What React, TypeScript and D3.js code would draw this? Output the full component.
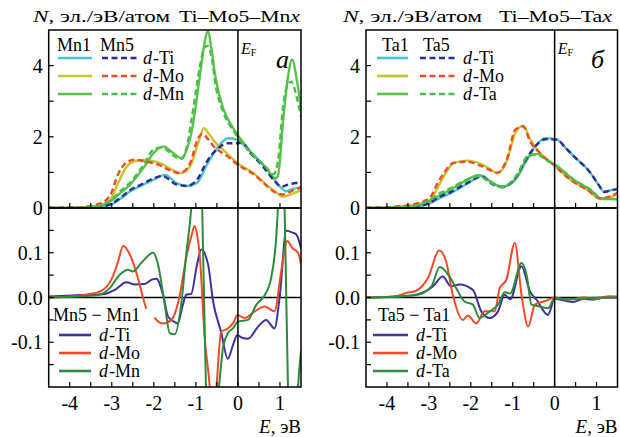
import React from "react";
import * as d3 from "d3";

type Pt = [number, number | null];

// --- Ti–Mo5–Mnx: DOS, Mn1 (solid) / Mn5 (dashed)
const mn1Ti: Pt[] = [[-4.5,0],[-3.8,0.01],[-3.3,0.03],[-3.04,0.08],[-2.8,0.25],[-2.57,0.46],[-2.3,0.63],[-2.01,0.79],[-1.73,0.93],[-1.46,0.7],[-1.22,0.62],[-0.98,0.7],[-0.74,1.21],[-0.5,1.68],[-0.23,1.96],[-0.03,1.92],[0.29,1.59],[0.6,1.21],[0.84,0.84],[1.04,0.55],[1.14,0.47],[1.28,0.53],[1.5,0.58]];
const mn5Ti: Pt[] = [[-4.5,0],[-3.8,0.01],[-3.3,0.04],[-3.04,0.1],[-2.8,0.28],[-2.57,0.5],[-2.3,0.66],[-2.01,0.83],[-1.8,0.9],[-1.46,0.66],[-1.22,0.62],[-0.98,0.78],[-0.74,1.3],[-0.5,1.65],[-0.23,1.82],[-0.03,1.82],[0.1,1.83],[0.29,1.55],[0.6,1.16],[0.84,0.8],[1.04,0.6],[1.2,0.66],[1.5,0.72]];
const mn1Mo: Pt[] = [[-4.5,0],[-3.8,0.01],[-3.3,0.08],[-3.04,0.22],[-2.85,0.7],[-2.65,1.16],[-2.45,1.32],[-2.25,1.35],[-2.05,1.32],[-1.85,1.26],[-1.6,1.1],[-1.38,0.98],[-1.14,1.16],[-0.95,1.8],[-0.81,2.24],[-0.7,2.1],[-0.59,1.92],[-0.27,1.54],[-0.01,1.26],[0.37,0.98],[0.68,0.65],[0.9,0.45],[1.06,0.32],[1.32,0.41],[1.5,0.5]];
const mn5Mo: Pt[] = [[-4.5,0],[-3.8,0.02],[-3.3,0.12],[-3.04,0.35],[-2.85,0.95],[-2.65,1.28],[-2.45,1.36],[-2.25,1.32],[-2.05,1.27],[-1.85,1.2],[-1.6,1.05],[-1.38,0.98],[-1.14,1.25],[-0.95,1.95],[-0.85,2.08],[-0.7,1.92],[-0.59,1.75],[-0.27,1.47],[-0.01,1.22],[0.37,0.95],[0.68,0.63],[0.9,0.43],[1.06,0.38],[1.32,0.5],[1.5,0.58]];
const mn1Mn: Pt[] = [[-4.5,0],[-3.8,0.01],[-3.3,0.05],[-3.04,0.18],[-2.8,0.42],[-2.57,0.65],[-2.25,1.12],[-2.0,1.55],[-1.77,1.73],[-1.55,1.55],[-1.34,1.4],[-1.2,1.7],[-1.1,2.15],[-0.9,3.75],[-0.8,4.6],[-0.72,4.97],[-0.62,4.4],[-0.545,3.75],[-0.35,2.8],[-0.11,2.24],[0.05,1.96],[0.37,1.49],[0.68,1.12],[0.88,0.84],[0.95,0.9],[1.08,2.53],[1.18,3.6],[1.29,4.17],[1.4,3.6],[1.52,2.6]];
const mn5Mn: Pt[] = [[-4.5,0],[-3.8,0.01],[-3.3,0.06],[-3.04,0.2],[-2.8,0.47],[-2.57,0.71],[-2.25,1.2],[-2.0,1.65],[-1.8,1.7],[-1.55,1.48],[-1.34,1.38],[-1.2,1.8],[-1.1,2.5],[-0.9,4.0],[-0.8,4.5],[-0.72,4.55],[-0.62,4.2],[-0.545,3.55],[-0.35,2.7],[-0.11,2.17],[0.05,1.9],[0.37,1.47],[0.68,1.13],[0.85,0.95],[0.95,1.3],[1.08,2.9],[1.18,3.45],[1.27,3.55],[1.4,3.1],[1.52,2.45]];

// --- Mn5 − Mn1
const dMnTi: Pt[] = [[-4.5,0.002],[-3.57,0.006],[-3.21,0.007],[-2.93,0.017],[-2.65,0.034],[-2.45,0.029],[-2.22,0.03],[-2.05,0.04],[-1.94,0.042],[-1.78,0.006],[-1.66,-0.043],[-1.5,-0.055],[-1.43,-0.058],[-1.32,-0.02],[-1.23,0.006],[-1.11,0.008],[-0.98,0.07],[-0.87,0.107],[-0.71,0.074],[-0.59,-0.009],[-0.4,-0.077],[-0.24,-0.137],[-0.12,-0.107],[-0.015,-0.084],[0.1,-0.09],[0.24,-0.092],[0.48,-0.065],[0.67,-0.05],[0.87,-0.069],[0.99,-0.001],[1.15,0.149],[1.3,0.145],[1.39,0.141],[1.5,0.11]];
const dMnMo: Pt[] = [[-4.5,0],[-3.9,0.003],[-3.57,0.007],[-3.25,0.015],[-3.01,0.04],[-2.85,0.08],[-2.73,0.115],[-2.57,0.096],[-2.38,0.044],[-2.22,-0.013],[-2.18,-0.025],[-2.1,null],[-1.98,-0.045],[-1.94,-0.05],[-1.78,-0.058],[-1.58,-0.05],[-1.38,0.006],[-1.23,0.089],[-1.1,0.14],[-1.03,0.16],[-0.97,0.14],[-0.91,0.096],[-0.79,-0.09],[-0.67,-0.2],[-0.6,-0.3],[-0.51,-0.2],[-0.4,-0.077],[-0.24,-0.069],[-0.1,-0.055],[-0.015,-0.039],[0.16,-0.046],[0.4,-0.031],[0.64,-0.02],[0.87,-0.031],[1.03,0.059],[1.17,0.126],[1.3,0.11],[1.43,0.1],[1.5,0.074]];
const dMnMn: Pt[] = [[-4.5,0],[-3.35,0.005],[-3.05,0.021],[-2.81,0.051],[-2.61,0.062],[-2.5,0.058],[-2.3,0.077],[-2.02,0.1],[-1.9,0.074],[-1.74,-0.016],[-1.62,-0.08],[-1.5,-0.082],[-1.35,-0.016],[-1.23,0.096],[-1.11,0.2],[-1.0,0.38],[-0.92,0.35],[-0.85,0.2],[-0.76,-0.2],[-0.6,-0.4],[-0.45,-0.2],[-0.35,-0.11],[-0.24,-0.08],[-0.12,-0.069],[0.0,-0.054],[0.24,-0.05],[0.44,-0.016],[0.64,0.006],[0.79,0.044],[0.91,0.134],[0.95,0.2],[1.03,0.5],[1.11,0.2],[1.19,-0.2],[1.3,-0.5],[1.43,-0.2],[1.5,-0.12]];

// --- Ti–Mo5–Tax: DOS, Ta1 (solid) / Ta5 (dashed)
const ta1Ti: Pt[] = [[-4.5,0],[-3.8,0.01],[-3.3,0.04],[-2.97,0.13],[-2.75,0.27],[-2.49,0.41],[-2.09,0.68],[-1.73,0.9],[-1.53,0.74],[-1.25,0.6],[-0.98,0.74],[-0.66,1.35],[-0.45,1.75],[-0.22,1.96],[0.06,1.92],[0.25,1.7],[0.46,1.45],[0.86,0.98],[1.05,0.65],[1.18,0.46],[1.35,0.5],[1.5,0.53]];
const ta5Ti: Pt[] = [[-4.5,0],[-3.8,0.01],[-3.3,0.05],[-2.97,0.15],[-2.75,0.31],[-2.49,0.44],[-2.09,0.7],[-1.73,0.88],[-1.53,0.7],[-1.25,0.59],[-0.98,0.78],[-0.66,1.4],[-0.45,1.75],[-0.22,1.93],[0.06,1.92],[0.25,1.7],[0.46,1.45],[0.86,0.98],[1.05,0.65],[1.18,0.45],[1.35,0.5],[1.5,0.53]];
const ta1Mo: Pt[] = [[-4.5,0],[-3.69,0.04],[-3.3,0.1],[-2.97,0.23],[-2.8,0.55],[-2.65,0.88],[-2.41,1.26],[-2.09,1.33],[-1.77,1.24],[-1.55,1.1],[-1.37,0.98],[-1.13,1.35],[-0.94,2.1],[-0.75,2.31],[-0.58,1.92],[-0.34,1.54],[-0.02,1.21],[0.38,0.79],[0.78,0.51],[1.1,0.25],[1.34,0.3],[1.54,0.45]];
const ta5Mo: Pt[] = [[-4.5,0],[-3.69,0.05],[-3.3,0.12],[-2.97,0.3],[-2.8,0.68],[-2.65,0.97],[-2.41,1.27],[-2.09,1.3],[-1.77,1.19],[-1.55,1.07],[-1.37,0.99],[-1.13,1.4],[-0.94,2.2],[-0.75,2.29],[-0.58,1.86],[-0.34,1.53],[-0.02,1.21],[0.38,0.79],[0.78,0.51],[1.1,0.27],[1.34,0.33],[1.54,0.45]];
const ta1Ta: Pt[] = [[-4.5,0],[-3.8,0.01],[-3.3,0.06],[-2.97,0.2],[-2.75,0.35],[-2.49,0.51],[-2.09,0.79],[-1.81,0.93],[-1.53,0.74],[-1.25,0.58],[-1.05,0.7],[-0.89,0.88],[-0.62,1.45],[-0.42,1.52],[-0.18,1.35],[0.06,1.17],[0.46,0.79],[0.86,0.51],[1.1,0.27],[1.3,0.25],[1.54,0.25]];
const ta5Ta: Pt[] = [[-4.5,0],[-3.8,0.01],[-3.3,0.07],[-2.97,0.23],[-2.75,0.41],[-2.49,0.55],[-2.09,0.8],[-1.81,0.89],[-1.53,0.72],[-1.25,0.58],[-1.05,0.72],[-0.89,0.95],[-0.62,1.48],[-0.42,1.5],[-0.18,1.33],[0.06,1.17],[0.46,0.79],[0.86,0.51],[1.1,0.27],[1.3,0.25],[1.54,0.25]];

// --- Ta5 − Ta1
const dTaTi: Pt[] = [[-4.5,0],[-3.6,0.003],[-3.27,0.007],[-2.9,0.025],[-2.67,0.047],[-2.47,0.025],[-2.27,0.029],[-1.95,0.017],[-1.75,-0.031],[-1.55,-0.046],[-1.35,-0.031],[-1.19,0.006],[-1.06,-0.004],[-0.79,0.07],[-0.59,0.014],[-0.43,-0.005],[-0.16,-0.039],[0.0,-0.003],[0.2,-0.006],[0.44,-0.01],[0.7,-0.003],[0.92,-0.005],[1.2,0.0],[1.5,0.0]];
const dTaMo: Pt[] = [[-4.5,0],[-3.8,0.003],[-3.54,0.01],[-3.3,0.015],[-3.02,0.044],[-2.75,0.105],[-2.59,0.081],[-2.43,0.006],[-2.19,-0.05],[-2.07,-0.04],[-1.87,-0.058],[-1.67,-0.031],[-1.43,-0.031],[-1.31,0.021],[-1.15,0.04],[-0.95,0.122],[-0.79,0.006],[-0.63,-0.065],[-0.47,-0.016],[-0.3,-0.01],[-0.19,-0.007],[0.0,0.0],[0.3,-0.005],[0.7,0.0],[1.0,-0.003],[1.3,0.003],[1.5,0.002]];
const dTaTa: Pt[] = [[-4.5,0],[-3.6,0.003],[-3.27,0.006],[-2.94,0.025],[-2.74,0.068],[-2.54,0.051],[-2.35,0.021],[-2.15,-0.009],[-1.95,-0.016],[-1.79,-0.046],[-1.55,-0.031],[-1.35,-0.016],[-1.19,0.012],[-1.06,0.009],[-0.79,0.077],[-0.67,0.051],[-0.55,-0.016],[-0.35,-0.02],[-0.16,-0.024],[0.0,-0.002],[0.3,-0.004],[0.7,-0.002],[1.1,0.0],[1.5,0.0]];

const xTickLabels = [-4, -3, -2, -1, 0, 1];
const yTopLabels = [0, 2, 4];
const yBotLabels = [-0.1, 0, 0.1];

const FONT = '"Liberation Serif", "DejaVu Serif", serif';
const TOP = 30, MID = 208, BOT = 387;

const col = {
  cyan: "#47c6cc", navy: "#2f2b98", olive: "#c6c62a", red: "#f24a26",
  lgreen: "#5ac24a", blue: "#3a33a2", dgreen: "#2b8c3a",
};

// "d-Ti": italic d
const dTxt = (el: string) => (<><tspan fontStyle="italic">d</tspan><tspan dx={1}>-{el}</tspan></>);

function Panel(props: any) {
  const { id, x0, x1, top, diff, names, diffTitle, system, letter, hdr } = props;
  const x = d3.scaleLinear().domain([-4.5, 1.5]).range([x0, x1]);
  const yT = d3.scaleLinear().domain([0, 5]).range([MID, TOP]);
  const yB = d3.scaleLinear().domain([-0.2, 0.2]).range([BOT, MID]);
  const lineT = d3.line<Pt>().defined(d => d[1] !== null).x(d => x(d[0])).y(d => yT(d[1] as number)).curve(d3.curveMonotoneX);
  const lineB = d3.line<Pt>().defined(d => d[1] !== null).x(d => x(d[0])).y(d => yB(d[1] as number)).curve(d3.curveMonotoneX);
  const xt = d3.range(-4, 1.5, 0.5);
  const ef = x(0);

  return (
    <g>
      <defs>
        <clipPath id={`ct${id}`}><rect x={x0} y={TOP} width={x1 - x0} height={MID - TOP} /></clipPath>
        <clipPath id={`cb${id}`}><rect x={x0} y={MID} width={x1 - x0} height={BOT - MID} /></clipPath>
      </defs>

      {/* header */}
      <text x={hdr[0]} y={21.5} fontSize={16} textLength={hdr[1]} lengthAdjust="spacingAndGlyphs">
        <tspan fontStyle="italic">N</tspan>, эл./эВ/атом
      </text>
      <text x={hdr[2]} y={21.5} fontSize={16} textLength={hdr[3]} lengthAdjust="spacingAndGlyphs">
        Ti–Mo5–{system}<tspan fontStyle="italic">x</tspan>
      </text>

      {/* curves top */}
      <g clipPath={`url(#ct${id})`} fill="none" strokeWidth={2.4}>
        {top.filter((s: any) => !s.dash).map((s: any, i: number) => (
          <path key={"s" + i} d={lineT(s.data) || ""} stroke={s.color} />
        ))}
        {top.filter((s: any) => s.dash).map((s: any, i: number) => (
          <path key={"d" + i} d={lineT(s.data) || ""} stroke={s.color} strokeDasharray="6,3.5" />
        ))}
      </g>

      {/* zero line and curves bottom */}
      <line x1={x0} x2={x1} y1={yB(0)} y2={yB(0)} stroke="#000" strokeWidth={1.5} />
      <g clipPath={`url(#cb${id})`} fill="none" strokeWidth={2}>
        {diff.map((s: any, i: number) => (
          <path key={i} d={lineB(s.data) || ""} stroke={s.color} />
        ))}
      </g>

      {/* Fermi level */}
      <line x1={ef} x2={ef} y1={TOP} y2={BOT} stroke="#000" strokeWidth={1.5} />
      <text x={ef + 3} y={53.5} fontSize={16} fontStyle="italic">E<tspan fontSize={10} fontStyle="normal" dy={2}>F</tspan></text>
      <text x={letter[1]} y={68} fontSize={26} fontStyle="italic">{letter[0]}</text>

      {/* frames */}
      <rect x={x0} y={TOP} width={x1 - x0} height={MID - TOP} fill="none" stroke="#000" strokeWidth={1.5} />
      <rect x={x0} y={MID} width={x1 - x0} height={BOT - MID} fill="none" stroke="#000" strokeWidth={1.5} />

      {/* ticks */}
      <g stroke="#000" strokeWidth={1.2}>
        {xt.map(t => (
          <g key={t}>
            <line x1={x(t)} x2={x(t)} y1={MID} y2={MID - 5} />
            <line x1={x(t)} x2={x(t)} y1={BOT} y2={BOT - 5} />
          </g>
        ))}
        {d3.range(1, 5).map(t => <line key={"yt" + t} x1={x0} x2={x0 + 5} y1={yT(t)} y2={yT(t)} />)}
        {d3.range(-0.15, 0.16, 0.05).map(t => <line key={"yb" + t} x1={x0} x2={x0 + 5} y1={yB(t)} y2={yB(t)} />)}
      </g>

      {/* tick labels */}
      <g fontSize={20}>
        {xTickLabels.map(t => (
          <text key={t} x={x(t)} y={410} textAnchor="middle">{String(t)}</text>
        ))}
        {yTopLabels.map(t => (
          <text key={t} x={x0 - 6} y={yT(t) + 7} textAnchor="end">{String(t)}</text>
        ))}
        {yBotLabels.map(t => (
          <text key={t} x={x0 - 6} y={yB(t) + 7} textAnchor="end">{t.toFixed(1)}</text>
        ))}
      </g>
      <text x={x1} y={433} fontSize={19} textAnchor="end"><tspan fontStyle="italic">E</tspan>, эВ</text>

      {/* legend top */}
      <g fontSize={18}>
        <text x={names.t1} y={51}>{names.a}</text>
        <text x={names.t2} y={51}>{names.b}</text>
        {[0, 1, 2].map(i => {
          const yy = 58 + i * 18;
          return (
            <g key={i}>
              <line x1={names.s1[0]} x2={names.s1[1]} y1={yy} y2={yy} stroke={top[i].color} strokeWidth={2.6} />
              <line x1={names.s2[0]} x2={names.s2[1]} y1={yy} y2={yy} stroke={top[i + 3].color} strokeWidth={2.6} strokeDasharray="6,3.5" />
              <text x={names.s2[1] + 6} y={yy + 6}>{dTxt(names.el[i])}</text>
            </g>
          );
        })}
      </g>

      {/* legend bottom */}
      <g fontSize={18}>
        <text x={diffTitle.x} y={321}>{diffTitle.text}</text>
        {[0, 1, 2].map(i => {
          const yy = 335 + i * 18;
          return (
            <g key={i}>
              <line x1={diffTitle.l[0]} x2={diffTitle.l[1]} y1={yy} y2={yy} stroke={diff[i].color} strokeWidth={2.6} />
              <text x={diffTitle.l[1] + 8} y={yy + 6}>{dTxt(names.el[i])}</text>
            </g>
          );
        })}
      </g>
    </g>
  );
}

export default function App() {
  return (
    <svg width={620} height={437} style={{ position: "absolute", left: 0, top: 0, background: "#fff", fontFamily: FONT }}>
      <rect width={620} height={437} fill="#fff" />
      <Panel
        id="a"
        x0={48.7}
        x1={301}
        hdr={[33, 137, 179, 121]}
        system="Mn"
        letter={["a", 276]}
        top={[
          { data: mn1Ti, color: col.cyan },
          { data: mn1Mo, color: col.olive },
          { data: mn1Mn, color: col.lgreen },
          { data: mn5Ti, color: col.navy, dash: true },
          { data: mn5Mo, color: col.red, dash: true },
          { data: mn5Mn, color: "#48c048", dash: true },
        ]}
        diff={[
          { data: dMnTi, color: col.blue },
          { data: dMnMo, color: col.red },
          { data: dMnMn, color: col.dgreen },
        ]}
        names={{ a: "Mn1", b: "Mn5", t1: 57, t2: 100, s1: [58, 92], s2: [102, 137], el: ["Ti", "Mo", "Mn"] }}
        diffTitle={{ text: "Mn5 − Mn1", x: 53, l: [59, 91] }}
      />
      <Panel
        id="b"
        x0={366}
        x1={617.5}
        hdr={[343, 139, 499, 113]}
        system="Ta"
        letter={["б", 591]}
        top={[
          { data: ta1Ti, color: col.cyan },
          { data: ta1Mo, color: col.olive },
          { data: ta1Ta, color: col.lgreen },
          { data: ta5Ti, color: col.navy, dash: true },
          { data: ta5Mo, color: col.red, dash: true },
          { data: ta5Ta, color: "#48c048", dash: true },
        ]}
        diff={[
          { data: dTaTi, color: col.blue },
          { data: dTaMo, color: col.red },
          { data: dTaTa, color: col.dgreen },
        ]}
        names={{ a: "Ta1", b: "Ta5", t1: 382, t2: 423, s1: [377, 408], s2: [420, 457], el: ["Ti", "Mo", "Ta"] }}
        diffTitle={{ text: "Ta5 − Ta1", x: 378, l: [373, 408] }}
      />
    </svg>
  );
}
